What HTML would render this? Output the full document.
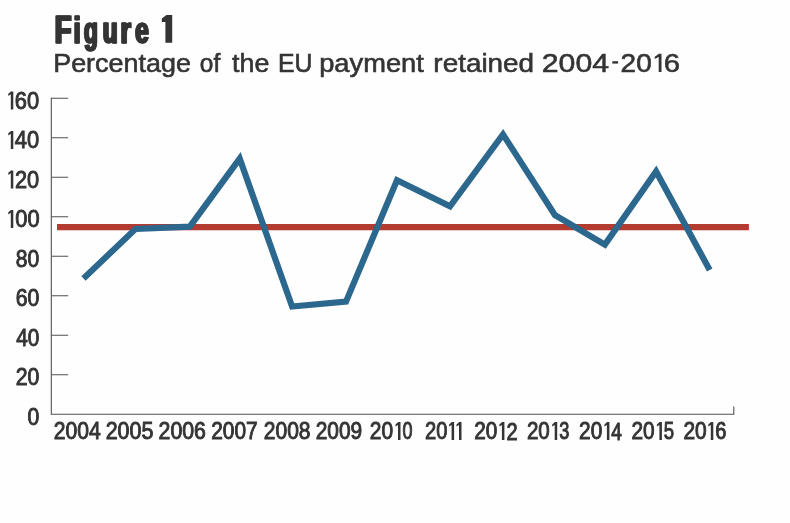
<!DOCTYPE html>
<html>
<head>
<meta charset="utf-8">
<title>Figure 1</title>
<style>
  html, body { margin: 0; padding: 0; background: #fefefe; }
  body { width: 790px; height: 523px; overflow: hidden; font-family: "Liberation Sans", sans-serif; }
  svg { display: block; }
  text { font-family: "Liberation Sans", sans-serif; fill: #313535; vector-effect: non-scaling-stroke; }
  polygon, rect.ink { fill: #313535; stroke: none; }
  .title { font-weight: bold; font-size: 38.4px; stroke: #313535; stroke-width: 1px; stroke-linejoin: miter; }
  .sub { font-size: 25px; stroke: #313535; stroke-width: 0.6px; }
  .ax { font-size: 25px; stroke: #313535; stroke-width: 0.9px; }
</style>
</head>
<body>
<svg width="790" height="523" viewBox="0 0 790 523">
  <rect x="0" y="0" width="790" height="523" fill="#fefefe"/>

  <g style="filter: grayscale(1);">
  <!-- heading: Figure 1 -->
  <g class="title" id="ttl">
    <text transform="translate(54.79 42.75) scale(0.712 1.000)">F</text>
    <text transform="translate(73.60 42.75) scale(0.667 0.975)">i</text>
    <text transform="translate(83.88 42.75) scale(0.596 0.975)">g</text>
    <text transform="translate(102.76 42.75) scale(0.635 0.975)">u</text>
    <text transform="translate(120.40 42.75) scale(0.708 0.975)">r</text>
    <text transform="translate(135.13 42.75) scale(0.641 0.975)">e</text>
  </g>
  <use href="#ttl" x="-0.7"/><use href="#ttl" x="0.7"/>
  <polygon points="172.2,15.1 166.4,15.1 161.8,18.4 161.8,22 165.4,22 165.4,42.8 172.2,42.8"/>

  <!-- sub heading: Percentage of the EU payment retained 2004-2016 -->
  <g class="sub">
    <text transform="translate(53.20 71.90) scale(1.077 1.000)">Percentage</text>
    <text transform="translate(199.84 71.90) scale(0.977 1.000)">of</text>
    <text transform="translate(232.10 71.90) scale(1.073 1.000)">the</text>
    <text transform="translate(278.06 71.90) scale(0.993 1.000)">EU</text>
    <text transform="translate(319.20 71.90) scale(1.091 1.000)">payment</text>
    <text transform="translate(433.36 71.90) scale(1.115 1.000)">retained</text>
    <text transform="translate(541.78 71.90) scale(1.210 1.000)">2004</text>
    <text transform="translate(620.59 71.90) scale(1.119 1.000)">20</text>
    <text transform="translate(663.83 71.90) scale(1.169 1.000)">6</text>
    <rect class="ink" x="612.3" y="61.2" width="5.8" height="2.4"/>
    <polygon points="658.90,53.80 661.50,53.80 661.50,71.90 658.70,71.90 658.70,57.10 654.70,59.10 654.70,56.80"/>
  </g>

  <!-- axes -->
  <g stroke="#505254" stroke-width="1.1" fill="none">
    <path d="M51.3 97.8 V414.3 H733.8 V406.4"/>
    <path d="M51.3 98.3 H68.2 M51.3 137.8 H68.2 M51.3 177.3 H68.2 M51.3 216.8 H68.2 M51.3 256.3 H68.2 M51.3 295.8 H68.2 M51.3 335.3 H68.2 M51.3 374.8 H68.2"/>
  </g>

  <!-- axis labels (y: 160..0, x: 2004..2016) -->
  <g class="ax">
    <text transform="translate(14.72 108.68) scale(0.876 0.957)">60</text>
    <text transform="translate(14.71 148.18) scale(0.877 0.957)">40</text>
    <text transform="translate(14.93 187.68) scale(0.873 0.957)">20</text>
    <text transform="translate(15.27 227.18) scale(0.875 0.957)">00</text>
    <text transform="translate(15.79 266.68) scale(0.845 0.957)">80</text>
    <text transform="translate(15.65 306.18) scale(0.850 0.957)">60</text>
    <text transform="translate(16.22 345.68) scale(0.832 0.957)">40</text>
    <text transform="translate(15.75 385.18) scale(0.850 0.957)">20</text>
    <text transform="translate(27.59 424.68) scale(0.848 0.957)">0</text>
    <text transform="translate(53.86 439.18) scale(0.845 0.952)">2004</text>
    <text transform="translate(105.64 439.18) scale(0.859 0.952)">2005</text>
    <text transform="translate(158.55 439.18) scale(0.853 0.952)">2006</text>
    <text transform="translate(211.17 439.18) scale(0.835 0.952)">2007</text>
    <text transform="translate(263.76 439.18) scale(0.842 0.952)">2008</text>
    <text transform="translate(315.67 439.18) scale(0.837 0.952)">2009</text>
    <text transform="translate(369.77 439.18) scale(0.838 0.952)">20</text>
    <text transform="translate(402.39 439.18) scale(0.720 0.952)">0</text>
    <text transform="translate(425.10 439.18) scale(0.807 0.952)">20</text>
    <text transform="translate(474.18 439.18) scale(0.830 0.952)">20</text>
    <text transform="translate(506.41 439.55) scale(0.802 0.973)">2</text>
    <text transform="translate(526.89 439.18) scale(0.823 0.952)">20</text>
    <text transform="translate(559.18 439.18) scale(0.727 0.952)">3</text>
    <text transform="translate(579.07 439.18) scale(0.834 0.952)">20</text>
    <text transform="translate(611.35 439.55) scale(0.760 0.973)">4</text>
    <text transform="translate(631.47 439.18) scale(0.834 0.952)">20</text>
    <text transform="translate(663.87 439.18) scale(0.743 0.952)">5</text>
    <text transform="translate(683.47 439.18) scale(0.838 0.952)">20</text>
    <text transform="translate(715.31 439.18) scale(0.802 0.952)">6</text>
  </g>
  <!-- digit "1" glyphs for axis labels -->
  <g>
    <polygon points="11.00,91.40 13.30,91.40 13.30,109.50 10.80,109.50 10.80,94.30 8.30,95.90 8.30,93.80"/>
    <polygon points="11.00,130.90 13.30,130.90 13.30,149.00 10.80,149.00 10.80,133.80 8.30,135.40 8.30,133.30"/>
    <polygon points="11.00,170.40 13.30,170.40 13.30,188.50 10.80,188.50 10.80,173.30 8.30,174.90 8.30,172.80"/>
    <polygon points="11.00,209.90 13.30,209.90 13.30,228.00 10.80,228.00 10.80,212.80 8.30,214.40 8.30,212.30"/>
    <polygon points="398.20,422.00 400.50,422.00 400.50,440.00 398.00,440.00 398.00,424.90 395.50,426.50 395.50,424.40"/>
    <polygon points="451.80,422.00 454.10,422.00 454.10,440.00 451.60,440.00 451.60,424.90 449.10,426.50 449.10,424.40"/>
    <polygon points="459.20,422.00 461.50,422.00 461.50,440.00 459.00,440.00 459.00,424.90 456.50,426.50 456.50,424.40"/>
    <polygon points="502.10,422.00 504.40,422.00 504.40,440.00 501.90,440.00 501.90,424.90 499.40,426.50 499.40,424.40"/>
    <polygon points="554.90,422.00 557.20,422.00 557.20,440.00 554.70,440.00 554.70,424.90 552.20,426.50 552.20,424.40"/>
    <polygon points="607.10,422.00 609.40,422.00 609.40,440.00 606.90,440.00 606.90,424.90 604.40,426.50 604.40,424.40"/>
    <polygon points="659.60,422.00 661.90,422.00 661.90,440.00 659.40,440.00 659.40,424.90 656.90,426.50 656.90,424.40"/>
    <polygon points="711.00,422.00 713.30,422.00 713.30,440.00 710.80,440.00 710.80,424.90 708.30,426.50 708.30,424.40"/>
  </g>
  </g>

  <!-- reference line -->
  <line x1="57" y1="227.2" x2="748.9" y2="227.2" stroke="#b43b30" stroke-width="6.3"/>

  <!-- series -->
  <polyline fill="none" stroke="#2c678e" stroke-width="6.2" stroke-linejoin="miter" stroke-linecap="butt"
    points="83.5,278.6 135.4,229 189.8,226.7 239.7,158.6 292.1,306.5 346,301.7 397,180.2 450,206.4 503,134.4 555,215.1 604.9,244.6 656.1,171.5 709.7,270"/>
</svg>
</body>
</html>
